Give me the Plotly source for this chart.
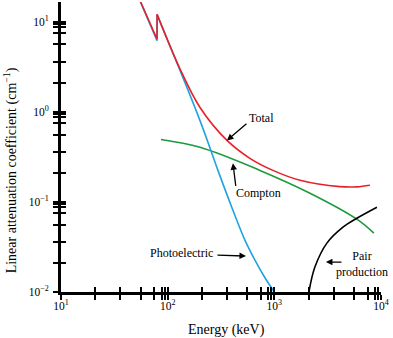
import plotly.graph_objects as go

# ---- data ----
# photoelectric: below K-edge (incl. the edge jump) and above it
photo_pre_E = [53, 79.5, 79.6]
photo_pre_mu = [18.9, 6.18, 12.0]
photo_E = [79.6, 201, 296, 409, 530, 658, 817, 1000]
photo_mu = [12.0, 0.80, 0.224, 0.0809, 0.0377, 0.0226, 0.0144, 0.01]

total_pre_E = [53, 79.5, 79.6]
total_pre_mu = [19.1, 6.4, 12.1]
total_E = [79.6, 130, 201, 360, 590, 970, 1740, 4120, 5940, 7870]
total_mu = [12.1, 3.03, 1.12, 0.482, 0.305, 0.224, 0.174, 0.148, 0.147, 0.153]

compton_E = [86.5, 201, 733, 2160, 5940, 8570]
compton_mu = [0.494, 0.404, 0.224, 0.125, 0.0643, 0.045]

pair_E = [2110, 2400, 3110, 4400, 5940, 9160]
pair_mu = [0.01, 0.0189, 0.0349, 0.0525, 0.0659, 0.0873]

x_decades = [10, 100, 1000, 10000]
x_labels = ["10<sup>1</sup>", "10<sup>2</sup>", "10<sup>3</sup>", "10<sup>4</sup>"]
y_decades = [0.01, 0.1, 1, 10]
y_labels = ["10<sup>−2</sup>", "10<sup>−1</sup>", "10<sup>0</sup>", "10<sup>1</sup>"]
minor_fracs = [2.1, 3.6, 5.6, 7.5, 8.8, 9.4]

RED = "#e8202a"
BLUE = "#1fa3df"
GREEN = "#1c9a3c"
FONT = "Liberation Serif"


def minors(decades, top):
    return [d * f for d in decades for f in minor_fracs if d * f < top]


x_minor = minors(x_decades, 10000)
y_minor = minors(y_decades, 16.6)

fig = go.Figure()


def line(x, y, color, shape="spline"):
    fig.add_trace(go.Scatter(x=x, y=y, mode="lines",
                             line=dict(color=color, width=1.6, shape=shape,
                                       smoothing=1.0),
                             hoverinfo="skip"))


line(compton_E, compton_mu, GREEN)
line(photo_pre_E, photo_pre_mu, BLUE, "linear")
line(photo_E, photo_mu, BLUE)
line(total_pre_E, total_pre_mu, RED, "linear")
line(total_E, total_mu, RED)
line(pair_E, pair_mu, "black")
fig.add_trace(go.Scatter(x=[], y=[], xaxis="x2", yaxis="y2", hoverinfo="skip"))

axis_common = dict(type="log", showgrid=False, zeroline=False)
tick_out = dict(ticks="outside", ticklen=5, tickwidth=1.5, tickcolor="black")
tick_in = dict(ticks="inside", ticklen=5, tickwidth=1.5, tickcolor="black")

fig.update_layout(
    width=393, height=338,
    margin=dict(l=61, r=12, t=2, b=46),
    paper_bgcolor="white", plot_bgcolor="white",
    showlegend=False,
    font=dict(family=FONT, color="black", size=11),
    xaxis=dict(**axis_common, range=[1, 4], showline=True, linecolor="black",
               linewidth=3, **tick_out, tickmode="array", tickvals=x_decades,
               ticktext=x_labels, tickfont=dict(size=11.5, family=FONT),
               ticklabelstandoff=-4,
               minor=dict(tickmode="array", tickvals=x_minor, **tick_out)),
    yaxis=dict(**axis_common, range=[-2, 1.22], showline=True, linecolor="black",
               linewidth=3, **tick_out, tickmode="array", tickvals=y_decades,
               ticktext=y_labels, tickfont=dict(size=11.5, family=FONT),
               ticklabelstandoff=2,
               minor=dict(tickmode="array", tickvals=y_minor, **tick_out)),
    xaxis2=dict(**axis_common, range=[1, 4], overlaying="x", anchor="y",
                side="bottom", **tick_in, tickmode="array", tickvals=x_decades,
                showticklabels=False, showline=False,
                minor=dict(tickmode="array", tickvals=x_minor, **tick_in)),
    yaxis2=dict(**axis_common, range=[-2, 1.22], overlaying="y", anchor="x",
                side="left", **tick_in, tickmode="array", tickvals=y_decades,
                showticklabels=False, showline=False,
                minor=dict(tickmode="array", tickvals=y_minor, **tick_in)),
)

txt = dict(family=FONT, size=12, color="black")
arrow = dict(showarrow=True, arrowhead=2, arrowsize=1, arrowwidth=1.3,
             arrowcolor="black")

# labels
fig.add_annotation(x=2.884, y=-0.073, text="Total", showarrow=False, font=txt)
fig.add_annotation(x=2.856, y=-0.904, text="Compton", showarrow=False, font=txt)
fig.add_annotation(x=2.134, y=-1.568, text="Photoelectric", showarrow=False, font=txt)
fig.add_annotation(x=3.821, y=-1.690, text="Pair<br>production", showarrow=False,
                   font=txt)

# arrows
fig.add_annotation(x=2.556, y=-0.317, ax=21, ay=-18, text="", **arrow)
fig.add_annotation(x=2.612, y=-0.571, ax=3, ay=24, text="", **arrow)
fig.add_annotation(x=2.734, y=-1.601, ax=-30, ay=-1, text="", **arrow)
fig.add_annotation(x=3.484, y=-1.668, ax=17, ay=0, text="", **arrow)

# axis titles
fig.add_annotation(xref="paper", yref="paper", x=0.517, y=-0.131,
                   xanchor="center", yanchor="middle",
                   text="Energy (keV)", showarrow=False,
                   font=dict(family=FONT, size=14, color="black"))
fig.add_annotation(xref="paper", yref="paper", x=-0.159, y=0.42,
                   xanchor="center", yanchor="middle",
                   text="Linear attenuation coefficient (cm<sup>−1</sup>)",
                   textangle=-90, showarrow=False,
                   font=dict(family=FONT, size=14, color="black"))

fig.write_html("out.html")
